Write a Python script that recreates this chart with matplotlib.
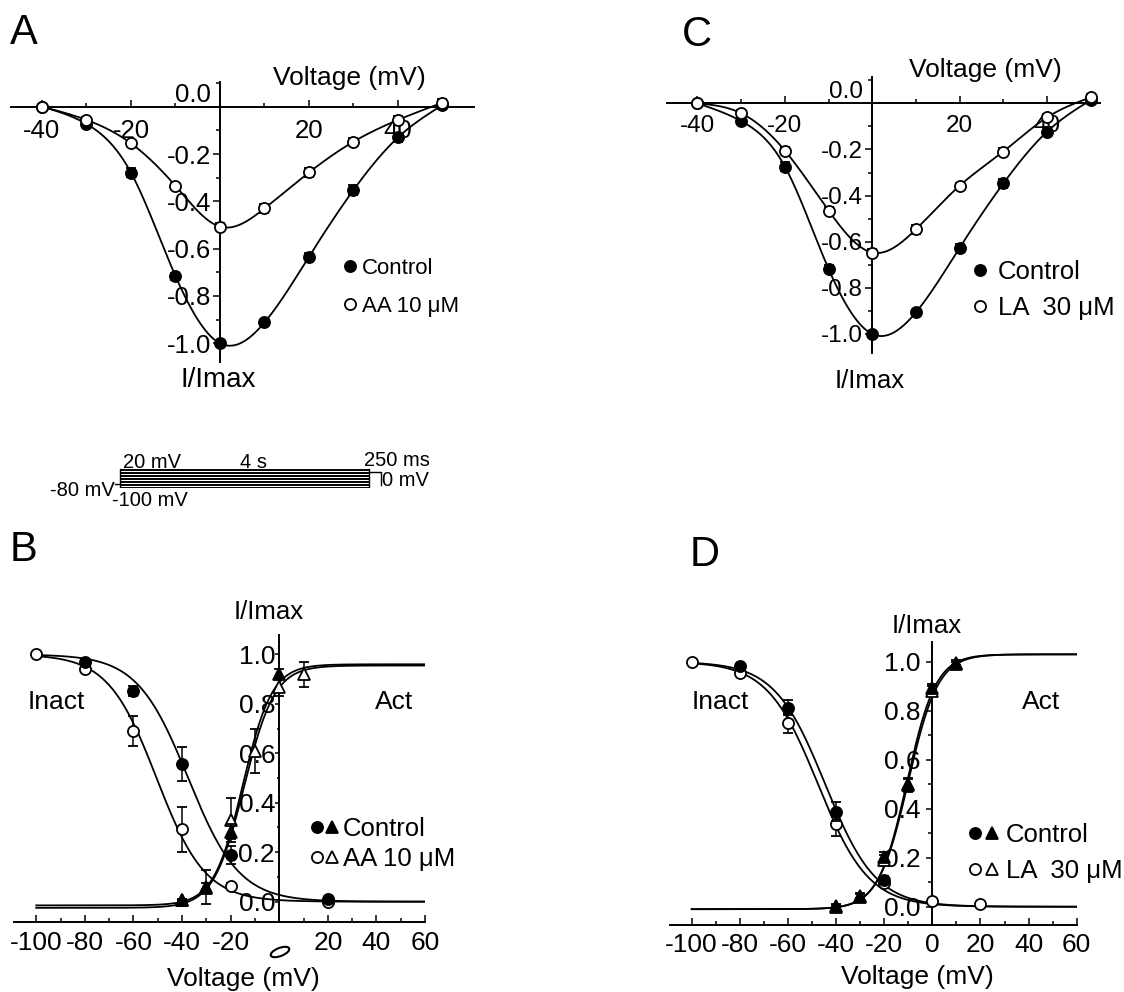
import numpy as np
import matplotlib
matplotlib.use("Agg")
import matplotlib.pyplot as plt
from matplotlib.ticker import MultipleLocator, FixedLocator, FixedFormatter, FormatStrFormatter
from matplotlib.legend_handler import HandlerTuple
from matplotlib.patches import Ellipse

plt.rcParams['font.family'] = ['Liberation Sans', 'DejaVu Sans']
plt.rcParams['axes.unicode_minus'] = False

# ---------------- data ----------------
# Panel A / C : normalised I-V relations
iv_v = [-40, -30, -20, -10, 0, 10, 20, 30, 40, 50]
a_ctrl = [0.0, -0.073, -0.279, -0.716, -1.0, -0.912, -0.634, -0.352, -0.130, 0.007]
a_ctrl_err = [0.005, 0.010, 0.020, 0.015, 0.010, 0.010, 0.015, 0.020, 0.020, 0.015]
a_aa = [0.0, -0.056, -0.155, -0.335, -0.507, -0.430, -0.278, -0.148, -0.056, 0.017]
a_aa_err = [0.005, 0.012, 0.012, 0.012, 0.015, 0.020, 0.020, 0.015, 0.015, 0.015]

c_ctrl = [0.0, -0.077, -0.274, -0.718, -1.0, -0.906, -0.626, -0.347, -0.123, 0.014]
c_ctrl_err = [0.005, 0.012, 0.020, 0.015, 0.010, 0.010, 0.015, 0.020, 0.020, 0.015]
c_la = [0.0, -0.043, -0.205, -0.465, -0.647, -0.546, -0.357, -0.209, -0.061, 0.026]
c_la_err = [0.005, 0.015, 0.015, 0.015, 0.015, 0.020, 0.012, 0.015, 0.015, 0.015]

# Panel B : inactivation / activation, AA 10 uM
b_inact_ctrl_v = [-80, -60, -40, -20, 20]
b_inact_ctrl = [0.970, 0.853, 0.557, 0.189, 0.010]
b_inact_ctrl_err = [0.010, 0.020, 0.070, 0.035, 0.010]
b_inact_aa_v = [-100, -80, -60, -40, -20, 20]
b_inact_aa = [1.0, 0.940, 0.690, 0.292, 0.065, 0.0]
b_inact_aa_err = [0.004, 0.010, 0.060, 0.090, 0.010, 0.010]
b_act_ctrl_v = [-40, -30, -20, 0]
b_act_ctrl = [0.007, 0.054, 0.283, 0.920]
b_act_ctrl_err = [0.005, 0.020, 0.030, 0.020]
b_act_aa_v = [-40, -30, -20, -10, 0, 10]
b_act_aa = [0.005, 0.060, 0.330, 0.610, 0.870, 0.920]
b_act_aa_err = [0.005, 0.070, 0.090, 0.090, 0.040, 0.050]
# Boltzmann fit parameters: inactivation [V1/2, k]; activation [V1/2, k, amplitude, offset]
b_inact_ctrl_fit = [-37.5, 10.5]
b_inact_aa_fit = [-50.5, 10.0]
b_act_ctrl_fit = [-15.0, 6.0, 0.975, -0.015]
b_act_aa_fit = [-14.5, 6.3, 0.980, -0.025]

# Panel D : inactivation / activation, LA 30 uM
d_inact_ctrl_v = [-80, -60, -40, -20]
d_inact_ctrl = [0.982, 0.812, 0.388, 0.109]
d_inact_ctrl_err = [0.010, 0.030, 0.040, 0.015]
d_inact_la_v = [-100, -80, -60, -40, -20, 0, 20]
d_inact_la = [1.0, 0.952, 0.751, 0.337, 0.095, 0.023, 0.011]
d_inact_la_err = [0.004, 0.010, 0.040, 0.050, 0.015, 0.008, 0.005]
d_act_v = [-40, -30, -20, -10, 0, 10]
d_act_ctrl = [0.003, 0.044, 0.204, 0.497, 0.891, 0.996]
d_act_ctrl_err = [0.005, 0.010, 0.020, 0.030, 0.020, 0.010]
d_act_la = [0.0, 0.040, 0.190, 0.500, 0.880, 0.990]
d_act_la_err = [0.010, 0.010, 0.020, 0.020, 0.020, 0.010]
d_inact_ctrl_fit = [-44.5, 10.5]
d_inact_la_fit = [-47.5, 10.5]
d_act_ctrl_fit = [-10.5, 6.0, 1.04, -0.01]
d_act_la_fit = [-10.0, 6.2, 1.04, -0.01]

# Voltage protocol (inset)
prot_steps = [-100, -90, -80, -70, -60, -50, -40, -30, -20, -10, 0, 10, 20]
prot_hold = -80
prot_test = 0
prot_pre_dur = 4.0
prot_test_dur = 0.25

# ---------------- helpers ----------------
W, H = 1124, 992
fig = plt.figure(figsize=(W / 100, H / 100), dpi=100)


def add_ax(l, t, r, b):
    return fig.add_axes([l / W, 1 - b / H, (r - l) / W, (b - t) / H])


def ftext(x, y, s, **kw):
    kw.setdefault('ha', 'center')
    kw.setdefault('va', 'center')
    fig.text(x / W, 1 - y / H, s, **kw)


def natural_spline(x, y, xs):
    x = np.asarray(x, float)
    y = np.asarray(y, float)
    n = len(x)
    h = np.diff(x)
    A = np.zeros((n, n))
    rhs = np.zeros(n)
    A[0, 0] = A[-1, -1] = 1.0
    for i in range(1, n - 1):
        A[i, i - 1] = h[i - 1]
        A[i, i] = 2 * (h[i - 1] + h[i])
        A[i, i + 1] = h[i]
        rhs[i] = 3 * ((y[i + 1] - y[i]) / h[i] - (y[i] - y[i - 1]) / h[i - 1])
    c = np.linalg.solve(A, rhs)
    xs = np.asarray(xs, float)
    idx = np.clip(np.searchsorted(x, xs) - 1, 0, n - 2)
    dx = xs - x[idx]
    hi = h[idx]
    b = (y[idx + 1] - y[idx]) / hi - hi * (2 * c[idx] + c[idx + 1]) / 3
    d = (c[idx + 1] - c[idx]) / (3 * hi)
    return y[idx] + b * dx + c[idx] * dx ** 2 + d * dx ** 3


def boltz_inact(v, p):
    vh, k = p
    return 1.0 / (1.0 + np.exp((v - vh) / k))


def boltz_act(v, p):
    vh, k, amp, off = p
    return off + amp / (1.0 + np.exp((vh - v) / k))


MS = 8
EB = dict(ecolor='k', elinewidth=1.1, capsize=3.6, capthick=1.1, mec='k', mew=1.3, ms=MS, linestyle='none')


def pts(ax, x, y, e, marker, filled, z=4):
    return ax.errorbar(x, y, yerr=e, marker=marker, mfc='k' if filled else 'white', zorder=z, **EB)


def style_axes(ax):
    for s in ('top', 'right'):
        ax.spines[s].set_visible(False)
    for s in ('left', 'bottom'):
        ax.spines[s].set_linewidth(1.4)
    ax.patch.set_alpha(0)


# ---------------- Panels A / C ----------------
def iv_panel(ax, xlim, ylim, ctrl, ctrl_err, drug, drug_err, tick_fs, pad_x):
    style_axes(ax)
    ax.set_xlim(*xlim)
    ax.set_ylim(*ylim)
    ax.spines['bottom'].set_position(('data', 0))
    ax.spines['left'].set_position(('data', 0))
    xs = np.linspace(iv_v[0], iv_v[-1], 500)
    ax.plot(xs, natural_spline(iv_v, ctrl, xs), 'k-', lw=1.3, zorder=2)
    ax.plot(xs, natural_spline(iv_v, drug, xs), 'k-', lw=1.3, zorder=2)
    hc = pts(ax, iv_v, ctrl, ctrl_err, 'o', True, 4)
    hd = pts(ax, iv_v, drug, drug_err, 'o', False, 5)
    ax.xaxis.set_major_locator(FixedLocator([-40, -20, 20, 40]))
    ax.xaxis.set_major_formatter(FormatStrFormatter('%d'))
    ax.xaxis.set_minor_locator(MultipleLocator(10))
    ax.yaxis.set_major_locator(FixedLocator([-1.0, -0.8, -0.6, -0.4, -0.2, 0.0]))
    ax.yaxis.set_major_formatter(FormatStrFormatter('%.1f'))
    ax.yaxis.set_minor_locator(MultipleLocator(0.1))
    ax.tick_params(axis='x', which='both', direction='in', width=1.1, labelsize=tick_fs, pad=pad_x)
    ax.tick_params(axis='x', which='major', length=5)
    ax.tick_params(axis='x', which='minor', length=3)
    ax.tick_params(axis='y', which='both', direction='out', width=1.1, labelsize=tick_fs, pad=1.5)
    ax.tick_params(axis='y', which='major', length=5)
    ax.tick_params(axis='y', which='minor', length=3)
    locs = ax.yaxis.get_majorticklocs()
    for t, l in zip(ax.yaxis.get_major_ticks(), locs):
        if abs(l) < 1e-9:
            t.label1.set_verticalalignment('bottom')
    return hc, hd


axA = add_ax(10.85, 81.6, 473.65, 361.75)
hAc, hAd = iv_panel(axA, (-47, 57), (-1.078, 0.106), a_ctrl, a_ctrl_err, a_aa, a_aa_err, 18.5, 9.0)
legA = axA.legend([hAc[0], hAd[0]], ['Control', 'AA 10 \u03bcM'], loc='center left',
                  bbox_to_anchor=(343.75 / W, 1 - 287.5 / H), bbox_transform=fig.transFigure,
                  frameon=False, fontsize=16, handlelength=0.6, handletextpad=0.2,
                  labelspacing=0.75, borderpad=0, borderaxespad=0, numpoints=1)

axC = add_ax(666.9, 76.8, 1099.5, 352.9)
hCc, hCd = iv_panel(axC, (-47, 52), (-1.082, 0.115), c_ctrl, c_ctrl_err, c_la, c_la_err, 17.5, 8.5)
legC = axC.legend([hCc[0], hCd[0]], ['Control', 'LA  30 \u03bcM'], loc='center left',
                  bbox_to_anchor=(972 / W, 1 - 290 / H), bbox_transform=fig.transFigure,
                  frameon=False, fontsize=18.5, handlelength=0.6, handletextpad=0.42,
                  labelspacing=0.5, borderpad=0, borderaxespad=0, numpoints=1)


# ---------------- Panels B / D ----------------
def ss_panel(ax, ylim, inact_c, inact_d, act_c, act_d, fits, tick_fs, ylen, ypad, xpad, xlabels):
    style_axes(ax)
    ax.set_xlim(-109, 60)
    ax.set_ylim(*ylim)
    ax.spines['left'].set_position(('data', 0))
    vs = np.linspace(-100, 60, 600)
    for f, kind in fits:
        yv = boltz_inact(vs, f) if kind == 'i' else boltz_act(vs, f)
        ax.plot(vs, yv, 'k-', lw=1.3, zorder=2)
    h = {}
    h['ic'] = pts(ax, *inact_c, 'o', True, 5)
    h['id'] = pts(ax, *inact_d, 'o', False, 4)
    h['ac'] = pts(ax, *act_c, '^', True, 5)
    h['ad'] = pts(ax, *act_d, '^', False, 4)
    xt = [-100, -80, -60, -40, -20, 0, 20, 40, 60]
    ax.xaxis.set_major_locator(FixedLocator(xt))
    ax.xaxis.set_major_formatter(FixedFormatter(xlabels))
    ax.xaxis.set_minor_locator(MultipleLocator(10))
    ax.yaxis.set_major_locator(FixedLocator([0.0, 0.2, 0.4, 0.6, 0.8, 1.0]))
    ax.yaxis.set_major_formatter(FormatStrFormatter('%.1f'))
    ax.yaxis.set_minor_locator(FixedLocator([0.1, 0.3, 0.5, 0.7, 0.9]))
    ax.tick_params(axis='x', which='both', direction='in', width=1.1, labelsize=tick_fs, pad=xpad)
    ax.tick_params(axis='x', which='major', length=5)
    ax.tick_params(axis='x', which='minor', length=3)
    ax.tick_params(axis='y', which='both', direction='out', width=1.1, labelsize=tick_fs, pad=ypad)
    ax.tick_params(axis='y', which='major', length=ylen)
    ax.tick_params(axis='y', which='minor', length=ylen * 0.6)
    return h


axB = add_ax(14.4, 635.1, 425.1, 921.7)
hB = ss_panel(axB, (-0.081, 1.078),
              (b_inact_ctrl_v, b_inact_ctrl, b_inact_ctrl_err),
              (b_inact_aa_v, b_inact_aa, b_inact_aa_err),
              (b_act_ctrl_v, b_act_ctrl, b_act_ctrl_err),
              (b_act_aa_v, b_act_aa, b_act_aa_err),
              [(b_inact_ctrl_fit, 'i'), (b_inact_aa_fit, 'i'), (b_act_ctrl_fit, 'a'), (b_act_aa_fit, 'a')],
              19, 3.0, 0.0, 6.5,
              ['-100', '-80', '-60', '-40', '-20', '', '20', '40', '60'])
legB = axB.legend([(hB['ic'][0], hB['ac'][0]), (hB['id'][0], hB['ad'][0])], ['Control', 'AA 10 \u03bcM'],
                  handler_map={tuple: HandlerTuple(ndivide=None, pad=0)},
                  loc='center left', bbox_to_anchor=(309.2 / W, 1 - 844 / H), bbox_transform=fig.transFigure,
                  frameon=False, fontsize=18.5, handlelength=1.2, handletextpad=0.12,
                  labelspacing=0.22, borderpad=0, borderaxespad=0, numpoints=1)
# distorted "0" tick mark printed below the B axis
fig.patches.append(Ellipse((280 / W, 1 - 952 / H), 20 / W, 8 / H, angle=25, fill=False,
                           lw=1.5, ec='k', transform=fig.transFigure))

axD = add_ax(670.0, 641.6, 1076.7, 925.1)
hD = ss_panel(axD, (-0.075, 1.082),
              (d_inact_ctrl_v, d_inact_ctrl, d_inact_ctrl_err),
              (d_inact_la_v, d_inact_la, d_inact_la_err),
              (d_act_v, d_act_ctrl, d_act_ctrl_err),
              (d_act_v, d_act_la, d_act_la_err),
              [(d_inact_ctrl_fit, 'i'), (d_inact_la_fit, 'i'), (d_act_ctrl_fit, 'a'), (d_act_la_fit, 'a')],
              19, 4.5, 4.0, 5.5,
              ['-100', '-80', '-60', '-40', '-20', '0', '20', '40', '60'])
legD = axD.legend([(hD['ic'][0], hD['ac'][0]), (hD['id'][0], hD['ad'][0])], ['Control', 'LA  30 \u03bcM'],
                  handler_map={tuple: HandlerTuple(ndivide=None, pad=0)},
                  loc='center left', bbox_to_anchor=(966.6 / W, 1 - 853 / H), bbox_transform=fig.transFigure,
                  frameon=False, fontsize=18.5, handlelength=1.34, handletextpad=0.18,
                  labelspacing=0.5, borderpad=0, borderaxespad=0, numpoints=1)

# ---------------- voltage protocol inset ----------------
axP = add_ax(120 - 0.6 * 62.25, 487 - 140 / 120 * 17, 120 + 5.0 * 62.25, 487 + 10 / 120 * 17)
axP.set_xlim(-0.6, 5.0)
axP.set_ylim(-110, 30)
axP.axis('off')
for v in prot_steps:
    axP.plot([0, prot_pre_dur], [v, v], 'k-', lw=0.7)
axP.plot([0, 0], [min(prot_steps), max(prot_steps)], 'k-', lw=1.0)
axP.plot([prot_pre_dur, prot_pre_dur], [min(prot_steps), max(prot_steps)], 'k-', lw=1.0)
axP.plot([-0.08, 0], [prot_hold, prot_hold], 'k-', lw=1.0)
t_end = prot_pre_dur + prot_test_dur * 0.75
axP.plot([prot_pre_dur, t_end, t_end], [prot_test, prot_test, prot_hold - 5], 'k-', lw=1.0)

PF = 14.5
ftext(152, 462, '20 mV', fontsize=PF)
ftext(253, 462, '4 s', fontsize=PF)
ftext(397, 461, '250 ms', fontsize=PF)
ftext(382, 481, '0 mV', fontsize=PF, ha='left')
ftext(115, 491, '-80 mV', fontsize=PF, ha='right')
ftext(112, 501, '-100 mV', fontsize=PF, ha='left')

# ---------------- texts ----------------
ftext(10, 33, 'A', fontsize=30, ha='left')
ftext(682, 35, 'C', fontsize=30, ha='left')
ftext(10, 550, 'B', fontsize=30, ha='left')
ftext(690, 555, 'D', fontsize=30, ha='left')

ftext(349, 78, 'Voltage (mV)', fontsize=19)
ftext(218, 380, 'I/Imax', fontsize=20)
ftext(985, 70, 'Voltage (mV)', fontsize=19)
ftext(870, 381, 'I/Imax', fontsize=18.5)

ftext(269, 612, 'I/Imax', fontsize=18.5)
ftext(28, 702, 'Inact', fontsize=19, ha='left')
ftext(375, 702, 'Act', fontsize=19, ha='left')
ftext(243, 979, 'Voltage (mV)', fontsize=19)

ftext(927, 626, 'I/Imax', fontsize=18.5)
ftext(692, 702, 'Inact', fontsize=19, ha='left')
ftext(1022, 702, 'Act', fontsize=19, ha='left')
ftext(917, 977, 'Voltage (mV)', fontsize=19)

fig.savefig('out.png', dpi=100)
